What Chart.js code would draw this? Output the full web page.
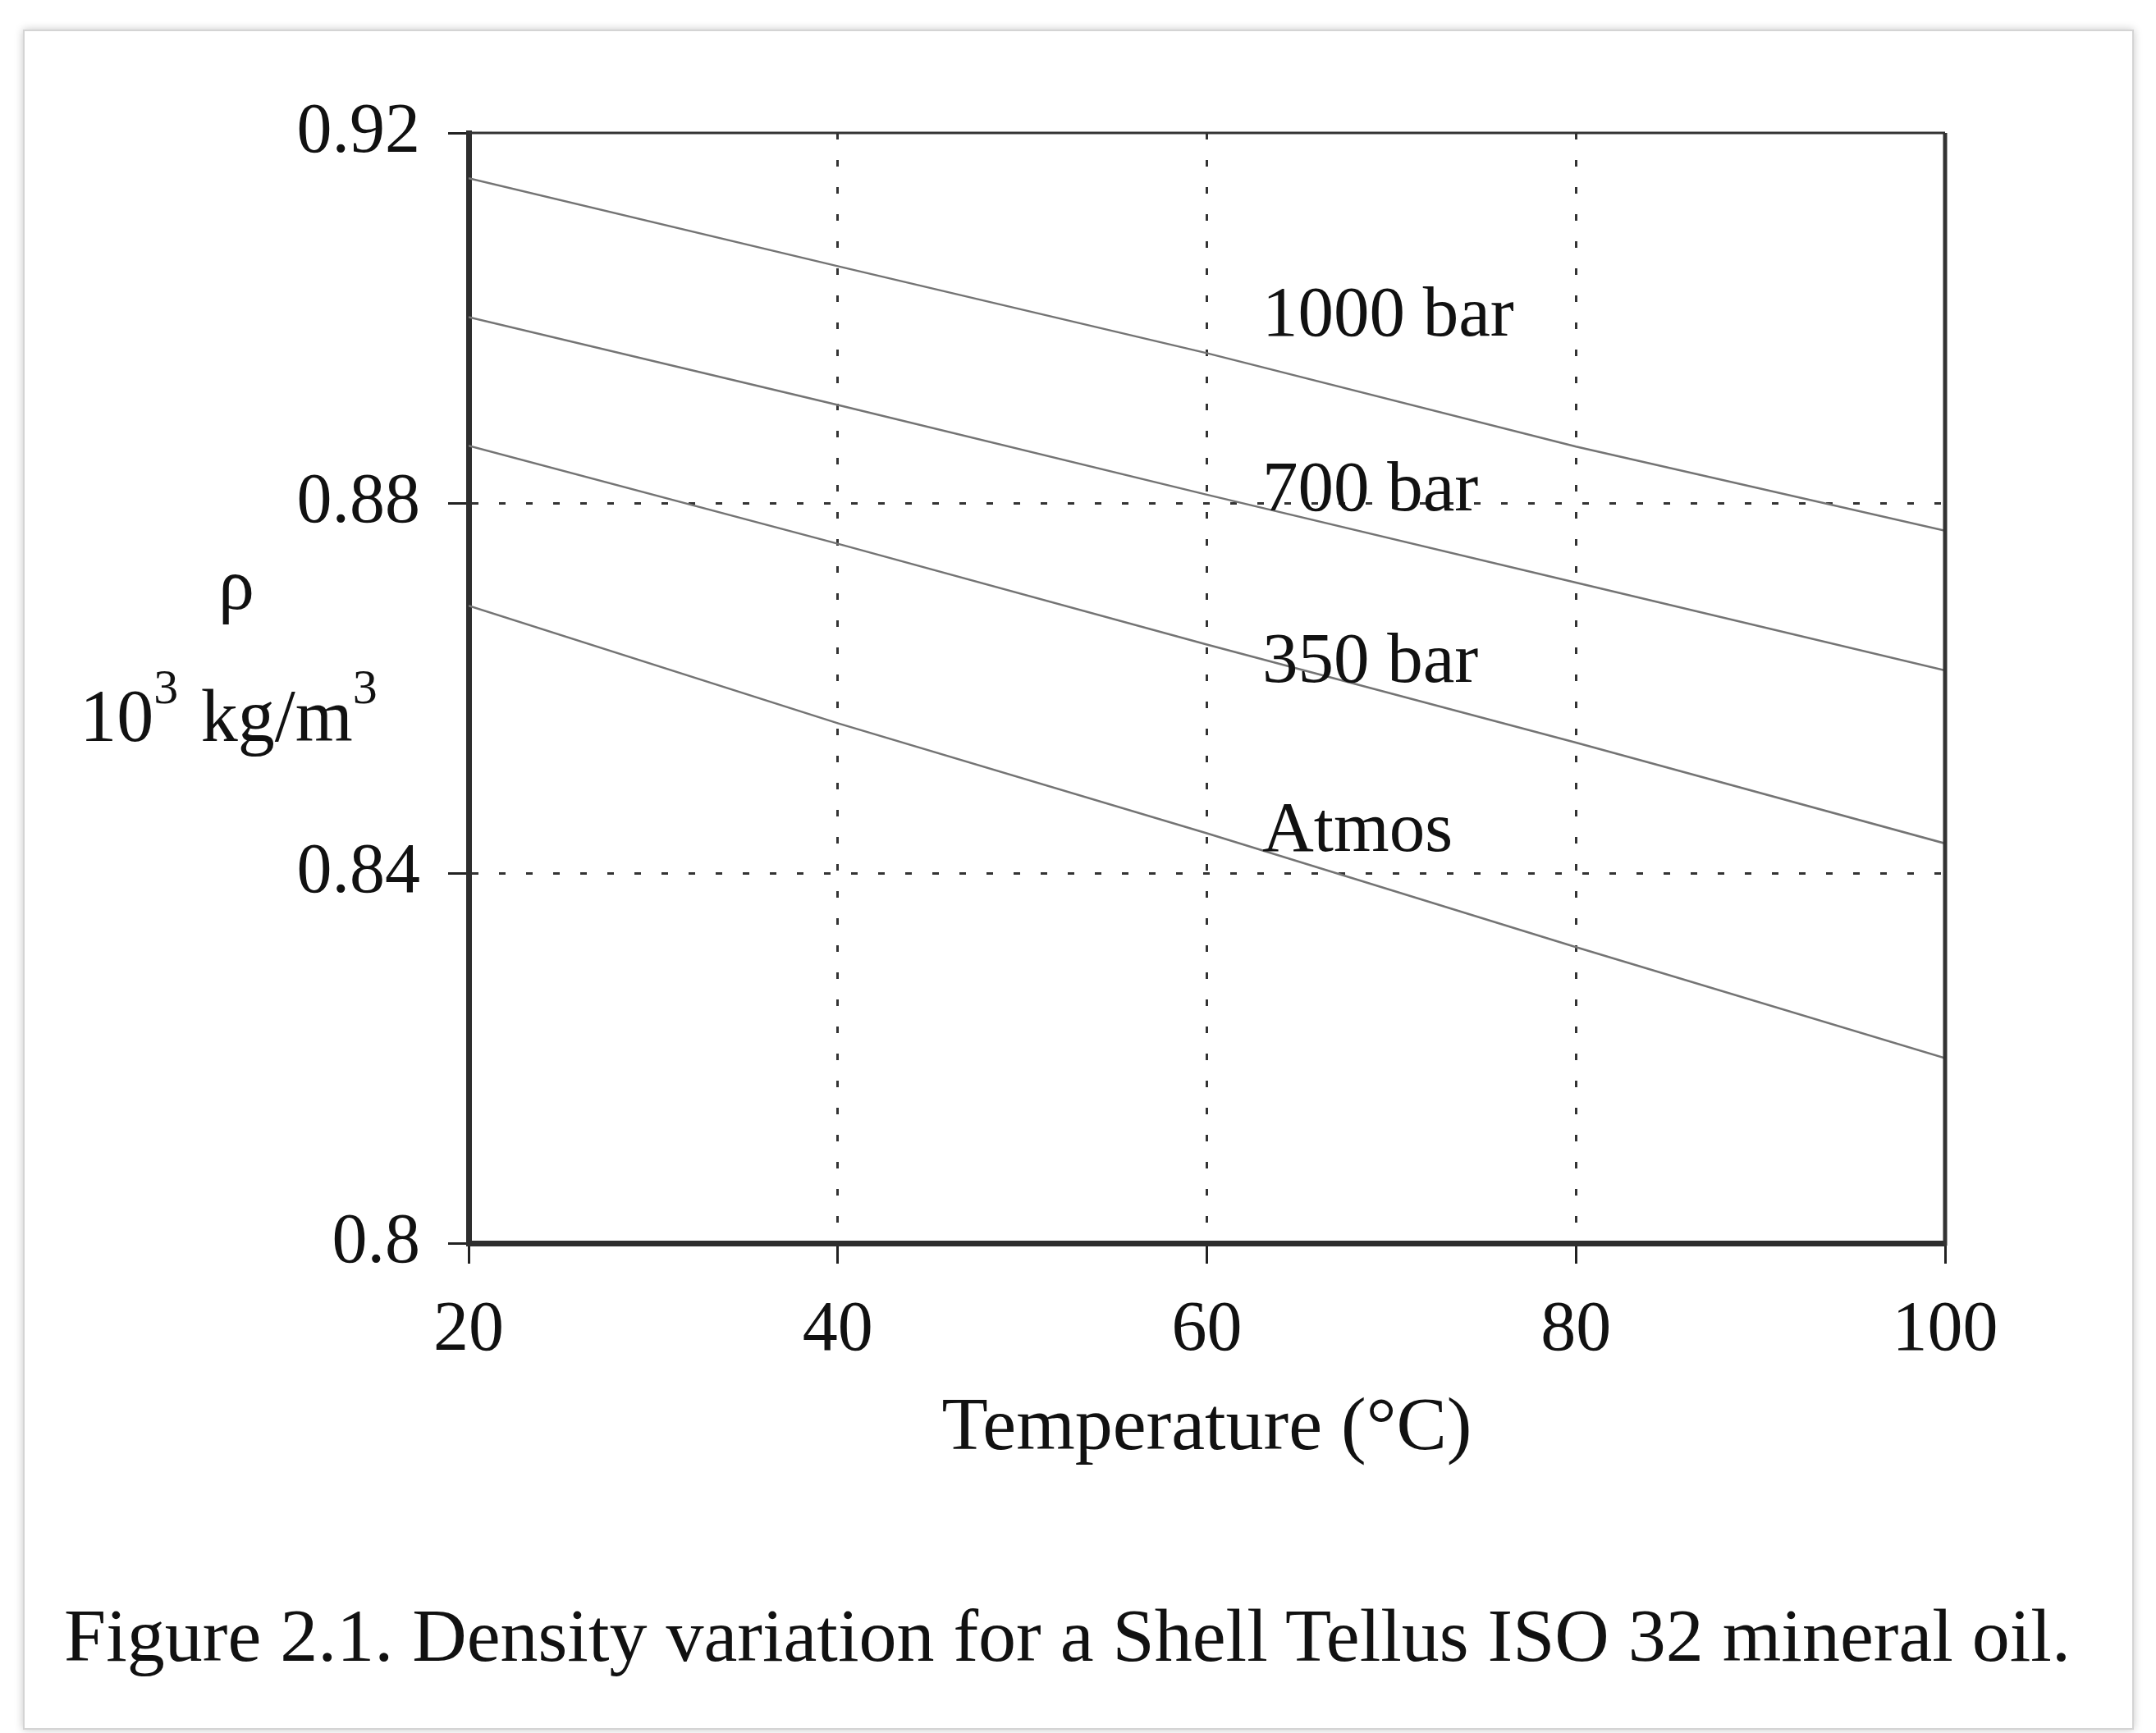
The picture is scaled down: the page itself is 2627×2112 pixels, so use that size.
<!DOCTYPE html>
<html>
<head>
<meta charset="utf-8">
<title>Density variation for a Shell Tellus ISO 32 mineral oil</title>
<script src="https://cdn.jsdelivr.net/npm/chart.js@4.4.1/dist/chart.umd.min.js"></script>
<style>
    html, body { margin: 0; padding: 0; background: #fff; }
    body { width: 2627px; height: 2112px; position: relative; overflow: hidden; }
    #frame {
        position: absolute; left: 28px; top: 36px; width: 2568px; height: 2068px;
        border: 2px solid #d4d4d4; box-shadow: 0 0 10px rgba(0, 0, 0, 0.22);
    }
    #wrap { position: absolute; left: 0; top: 0; width: 2627px; height: 2112px; }
    #caption {
        position: absolute; left: 0; width: 2627px; top: 1940px; text-align: center;
        font-family: "Liberation Serif", serif; font-size: 92px; color: #111; padding-right: 26px;
        box-sizing: border-box;
    }
</style>
</head>
<body>
<div id="frame"></div>
<div id="wrap"><canvas id="densityChart"></canvas></div>
<div id="caption">Figure 2.1. Density variation for a Shell Tellus ISO 32 mineral oil.</div>
<script>
// values
var temps = [20, 40, 60, 80, 100];
var bar1000 = [0.9151, 0.9056, 0.8962, 0.8861, 0.8770];
var bar700 = [0.9001, 0.8906, 0.8809, 0.8714, 0.8619];
var bar350 = [0.8862, 0.8756, 0.8647, 0.8541, 0.8432];
var atmos = [0.8689, 0.8562, 0.8443, 0.8320, 0.8200];

var curveNames = ['1000 bar', '700 bar', '350 bar', 'Atmos'];
var xTicks = [20, 40, 60, 80, 100];
var yTicks = [0.8, 0.84, 0.88, 0.92];

// where the curve names sit, in data units
var labelTemp = 63;
var labelDensity = [0.9001, 0.8812, 0.8627, 0.8444];

(function () {
    var serif = '"Liberation Serif", "Times New Roman", serif';
    Chart.defaults.font.family = serif;
    Chart.defaults.color = '#111';

    function pairs(ys) {
        return temps.map(function (t, i) { return { x: t, y: ys[i] }; });
    }

    function lineSet(name, ys) {
        return {
            label: name,
            data: pairs(ys),
            borderColor: '#747474',
            borderWidth: 2.5,
            pointRadius: 0,
            tension: 0,
            fill: false
        };
    }

    function edgeless(ctx) {
        var n = ctx.scale.ticks.length;
        return (ctx.index === 0 || ctx.index === n - 1) ? 'rgba(0,0,0,0)' : '#333';
    }

    var overlay = {
        id: 'overlay',
        afterDatasetsDraw: function (chart) {
            var ctx = chart.ctx, a = chart.chartArea;
            var x = chart.scales.x, y = chart.scales.y;
            ctx.save();

            // top and right side of the box
            ctx.strokeStyle = '#333';
            ctx.lineWidth = 3;
            ctx.beginPath(); ctx.moveTo(a.left, a.top); ctx.lineTo(a.right, a.top); ctx.stroke();
            ctx.lineWidth = 5;
            ctx.beginPath(); ctx.moveTo(a.right, a.top); ctx.lineTo(a.right, a.bottom + 3); ctx.stroke();

            // curve names
            ctx.fillStyle = '#111';
            ctx.font = '87px ' + serif;
            ctx.textAlign = 'left';
            ctx.textBaseline = 'middle';
            curveNames.forEach(function (name, i) {
                ctx.fillText(name, x.getPixelForValue(labelTemp), y.getPixelForValue(labelDensity[i]));
            });

            // y axis title: rho over 10^3 kg/m^3
            ctx.textBaseline = 'alphabetic';
            ctx.textAlign = 'center';
            ctx.font = '88px ' + serif;
            ctx.fillText('ρ', a.left - 283, a.top + 580);

            var parts = [['10', 90, 0], ['3', 60, -46], [' kg/m', 90, 0], ['3', 60, -46]];
            var total = 0;
            parts.forEach(function (p) {
                ctx.font = p[1] + 'px ' + serif;
                p.push(ctx.measureText(p[0]).width);
                total += p[3] + (p[1] < 80 ? 5 : 0);
            });
            var cx = a.left - 290 - total / 2;
            var base = a.top + 741;
            ctx.textAlign = 'left';
            parts.forEach(function (p) {
                ctx.font = p[1] + 'px ' + serif;
                ctx.fillText(p[0], cx, base + p[2]);
                cx += p[3] + (p[1] < 80 ? 5 : 0);
            });
            ctx.restore();
        }
    };

    var el = document.getElementById('densityChart');
    if (!el || !window.Chart) {
        return;
    }

    new Chart(el, {
        type: 'line',
        data: {
            datasets: [
                lineSet(curveNames[0], bar1000),
                lineSet(curveNames[1], bar700),
                lineSet(curveNames[2], bar350),
                lineSet(curveNames[3], atmos)
            ]
        },
        options: {
            responsive: true,
            maintainAspectRatio: false,
            devicePixelRatio: 1,
            animation: false,
            layout: { padding: { left: 301, right: 257, top: 162, bottom: 315 } },
            plugins: {
                legend: { display: false },
                tooltip: { enabled: false }
            },
            scales: {
                x: {
                    type: 'linear',
                    min: 20,
                    max: 100,
                    afterBuildTicks: function (s) {
                        s.ticks = xTicks.map(function (v) { return { value: v }; });
                    },
                    afterFit: function (s) { s.height = 282; },
                    ticks: {
                        font: { size: 86 },
                        color: '#111',
                        padding: 31,
                        maxRotation: 0,
                        callback: function (v) { return String(v); }
                    },
                    grid: {
                        color: edgeless,
                        lineWidth: 3,
                        drawTicks: true,
                        tickLength: 25,
                        tickColor: '#222',
                        tickWidth: 3
                    },
                    border: { display: true, color: '#2e2e2e', width: 7, dash: [8, 25] },
                    title: {
                        display: true,
                        text: 'Temperature (°C)',
                        font: { size: 92 },
                        color: '#111',
                        padding: { top: 0, bottom: 0 }
                    }
                },
                y: {
                    type: 'linear',
                    min: 0.8,
                    max: 0.92,
                    afterBuildTicks: function (s) {
                        s.ticks = yTicks.map(function (v) { return { value: v }; });
                    },
                    afterFit: function (s) { s.width = 270; },
                    ticks: {
                        font: { size: 86 },
                        color: '#111',
                        padding: 34,
                        callback: function (v) { return String(Math.round(v * 100) / 100); }
                    },
                    grid: {
                        color: edgeless,
                        lineWidth: 3,
                        drawTicks: true,
                        tickLength: 25,
                        tickColor: '#222',
                        tickWidth: 3
                    },
                    border: { display: true, color: '#2e2e2e', width: 7, dash: [8, 25] }
                }
            }
        },
        plugins: [overlay]
    });
})();
</script>
</body>
</html>
